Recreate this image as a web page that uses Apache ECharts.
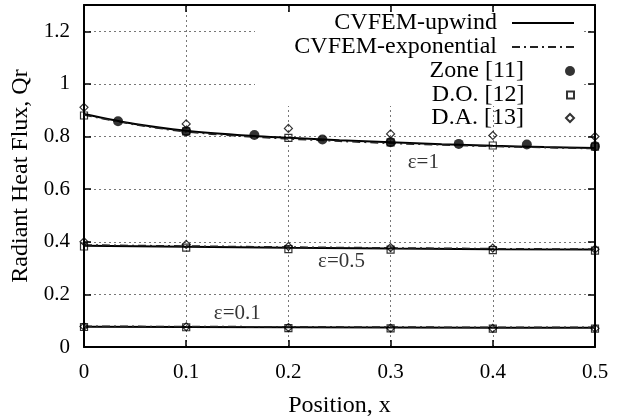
<!DOCTYPE html>
<html><head><meta charset="utf-8">
<script src="https://cdn.jsdelivr.net/npm/echarts@6/dist/echarts.min.js"></script>
<style>html,body{margin:0;padding:0;background:#fff}#c{width:632px;height:418px}</style>
</head><body><div id="c"></div>
<script>
// ---- data ----
const xFine = [0, 0.05, 0.1, 0.15, 0.2, 0.25, 0.3, 0.35, 0.4, 0.45, 0.5];
const upwindE1 = [0.886, 0.848, 0.822, 0.806, 0.795, 0.786, 0.778, 0.771, 0.765, 0.760, 0.756];
const expE1    = [0.882, 0.845, 0.818, 0.802, 0.791, 0.782, 0.774, 0.768, 0.762, 0.758, 0.754];
const xGrid = [0, 0.1, 0.2, 0.3, 0.4, 0.5];
const upwindE05 = [0.385, 0.381, 0.377, 0.374, 0.372, 0.371];
const expE05    = [0.388, 0.384, 0.380, 0.377, 0.374, 0.372];
const upwindE01 = [0.077, 0.076, 0.075, 0.074, 0.073, 0.073];
const expE01    = [0.079, 0.078, 0.077, 0.076, 0.075, 0.075];
const zoneX  = [0.0333, 0.1, 0.1667, 0.2333, 0.3, 0.3667, 0.4333, 0.5];
const zoneE1 = [0.858, 0.820, 0.806, 0.789, 0.778, 0.772, 0.770, 0.763];
const doE1  = [0.880, 0.820, 0.795, 0.778, 0.766, 0.762];
const doE05 = [0.382, 0.378, 0.372, 0.370, 0.368, 0.366];
const doE01 = [0.076, 0.075, 0.072, 0.071, 0.070, 0.070];
const daE1  = [0.911, 0.848, 0.831, 0.810, 0.804, 0.800];
const daE05 = [0.400, 0.390, 0.382, 0.378, 0.376, 0.372];
const daE01 = [0.078, 0.077, 0.074, 0.072, 0.071, 0.071];
const curveLabels = ['ε=1', 'ε=0.5', 'ε=0.1'];
const curveLabelAnchorX = [0.332, 0.252, 0.150];
const curveLabelAnchorY = [0.701, 0.326, 0.129];
const seriesNames = ['CVFEM-upwind', 'CVFEM-exponential', 'Zone [11]', 'D.O. [12]', 'D.A. [13]'];

// ---- build ----
const zip = (xs, ys) => xs.map((x, i) => [x, ys[i]]);
const FONT = 'Liberation Serif';
const chart = echarts.init(document.getElementById('c'), null, {renderer: 'canvas'});

const lineSolid = {color: '#000', width: 2, type: 'solid'};
const lineDash = {color: '#222', width: 1.5, type: [8, 4, 2, 4]};
const mkLine = (name, data, ls, smooth) => ({
  name, type: 'line', data, symbol: 'none', smooth: smooth ? 0.3 : false,
  lineStyle: ls, itemStyle: {color: ls.color}, z: 3, silent: true, animation: false
});
const diamondPath = 'path://M0,-1L1,0L0,1L-1,0Z';
const squarePath = 'path://M-1,-1L1,-1L1,1L-1,1Z';

const series = [
  mkLine(seriesNames[0], zip(xFine, upwindE1), lineSolid, true),
  mkLine(seriesNames[0], zip(xGrid, upwindE05), lineSolid, false),
  mkLine(seriesNames[0], zip(xGrid, upwindE01), lineSolid, false),
  mkLine(seriesNames[1], zip(xFine, expE1), lineDash, true),
  mkLine(seriesNames[1], zip(xGrid, expE05), lineDash, false),
  mkLine(seriesNames[1], zip(xGrid, expE01), lineDash, false),
  {name: seriesNames[2], type: 'scatter', data: zip(zoneX, zoneE1), symbol: 'circle', symbolSize: 10,
   itemStyle: {color: '#000'}, z: 4, silent: true, animation: false},
  {name: seriesNames[3], type: 'scatter', data: [].concat(zip(xGrid, doE1), zip(xGrid, doE05), zip(xGrid, doE01)),
   symbol: squarePath, symbolSize: 7, itemStyle: {color: 'rgba(0,0,0,0)', borderColor: '#000', borderWidth: 1.2},
   z: 5, silent: true, animation: false},
  {name: seriesNames[4], type: 'scatter', data: [].concat(zip(xGrid, daE1), zip(xGrid, daE05), zip(xGrid, daE01)),
   symbol: diamondPath, symbolSize: 8, itemStyle: {color: 'rgba(0,0,0,0)', borderColor: '#000', borderWidth: 1.2},
   z: 5, silent: true, animation: false},
  {name: 'labels', type: 'scatter', symbolSize: 0, silent: true, animation: false, z: 6,
   data: curveLabels.map((t, i) => ({value: [curveLabelAnchorX[i], curveLabelAnchorY[i]], name: t})),
   itemStyle: {color: 'rgba(0,0,0,0)'},
   label: {show: true, position: 'inside', formatter: p => p.name, color: '#000', fontFamily: FONT, fontSize: 21}}
];

const rowCenters = [23, 47, 71, 95, 118];
const iconH = [12, 12, 10, 7, 8];
const legends = seriesNames.map((n, i) => {
  const lg = {
    data: [n], orient: 'vertical', align: 'right', right: 57, top: rowCenters[i] - 12, padding: 0,
    itemWidth: 62, itemHeight: iconH[i], selectedMode: false,
    textStyle: {fontFamily: FONT, fontSize: 24, color: '#000', lineHeight: 24, padding: [0, 10, 0, 0]}
  };
  if (i < 2) lg.itemStyle = {opacity: 0, color: 'rgba(0,0,0,0)', borderWidth: 0};
  return lg;
});

const axisCommon = {
  axisLine: {show: true, onZero: false, lineStyle: {color: '#000', width: 2}},
  axisTick: {show: true, inside: true, length: 7, lineStyle: {color: '#000', width: 1.5}}
};

chart.setOption({
  animation: false,
  backgroundColor: '#fff',
  grid: {left: 84, right: 37, top: 5, bottom: 71, containLabel: false, outerBoundsMode: 'none'},
  legend: legends,
  graphic: [{type: 'rect', shape: {x: 255, y: 14, width: 328, height: 92}, style: {fill: '#fff'}, z: 1, silent: true}],
  xAxis: [
    Object.assign({type: 'value', min: 0, max: 0.5, interval: 0.1, position: 'bottom',
      name: 'Position, x', nameLocation: 'middle', nameGap: 47,
      nameTextStyle: {fontFamily: FONT, fontSize: 24, color: '#000'},
      axisLabel: {fontFamily: FONT, fontSize: 21, color: '#000', margin: 15},
      splitLine: {show: true, lineStyle: {color: '#777', width: 1, type: [2, 3]}}}, axisCommon),
    Object.assign({type: 'value', min: 0, max: 0.5, interval: 0.1, position: 'top',
      axisLabel: {show: false}, splitLine: {show: false}}, axisCommon)
  ],
  yAxis: [
    Object.assign({type: 'value', min: 0, max: 1.3, interval: 0.2, position: 'left',
      name: 'Radiant Heat Flux, Qr', nameLocation: 'middle', nameGap: 46,
      nameTextStyle: {fontFamily: FONT, fontSize: 24, color: '#000'},
      axisLabel: {fontFamily: FONT, fontSize: 21, color: '#000', margin: 14, showMaxLabel: false},
      splitLine: {show: true, lineStyle: {color: '#777', width: 1, type: [2, 3]}}}, axisCommon),
    Object.assign({type: 'value', min: 0, max: 1.3, interval: 0.2, position: 'right',
      axisLabel: {show: false}, splitLine: {show: false}}, axisCommon)
  ],
  series
});
</script></body></html>
